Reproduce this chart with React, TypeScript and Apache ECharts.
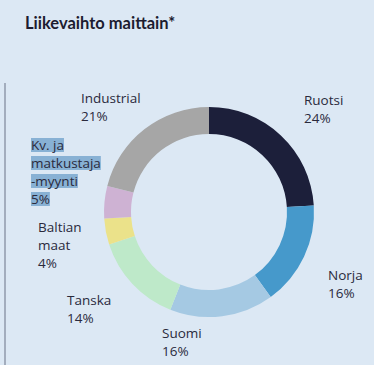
import React, { useEffect, useRef } from "react";
import * as echarts from "echarts";

const categories = ["Ruotsi", "Norja", "Suomi", "Tanska", "Baltian maat", "Kv. ja matkustaja-myynti", "Industrial"];
const values = [24, 16, 16, 14, 4, 5, 21];
const labelLines = [
  ["Ruotsi"],
  ["Norja"],
  ["Suomi"],
  ["Tanska"],
  ["Baltian", "maat"],
  ["Kv. ja", "matkustaja", "-myynti"],
  ["Industrial"],
];
const colors = ["#1c1f3a", "#4699cb", "#a5c9e3", "#bee9c9", "#ebe28a", "#ceb2d3", "#a6a6a6"];
const labelPos = [
  [304, 91],
  [328, 266],
  [162, 324],
  [67, 291],
  [38, 218],
  [31, 136],
  [81, 89],
];

export default function App() {
  const ref = useRef<HTMLDivElement>(null);
  useEffect(() => {
    if (!ref.current) return;
    const chart = echarts.init(ref.current, undefined, { renderer: "svg" });
    const font = "'Open Sans', Lato, sans-serif";
    chart.setOption({
      animation: false,
      backgroundColor: "#dce8f4",
      title: {
        text: "Liikevaihto maittain*",
        left: 20,
        top: 9,
        textStyle: { fontFamily: "Lato, sans-serif", fontWeight: "bold", fontSize: 16.5, color: "#1c1c30" },
      },
      graphic: [
        { type: "rect", shape: { x: 4, y: 83, width: 2, height: 282 }, style: { fill: "#a3adbd" } },
      ],
      series: [
        {
          type: "pie",
          center: [209, 212],
          radius: [78, 105],
          startAngle: 90,
          clockwise: true,
          data: categories.map((c, i) => ({ name: c, value: values[i], itemStyle: { color: colors[i] } })),
          labelLine: { show: false },
          label: {
            show: true,
            position: "outside",
            overflow: "none",
            fontFamily: font,
            fontSize: 13.5,
            lineHeight: 18,
            color: "#2a2a3c",
            formatter: (p: any) => {
              const lines = [...labelLines[p.dataIndex], p.value + "%"];
              if (p.dataIndex === 5) return lines.map((l) => `{h|${l}}`).join("\n");
              return lines.join("\n");
            },
            rich: {
              h: {
                backgroundColor: "#88b1d4",
                fontFamily: font,
                fontSize: 13.5,
                lineHeight: 18,
                color: "#2a2a3c",
              },
            },
          },
          labelLayout: (params: any) => {
            const p = labelPos[params.dataIndex];
            return { x: p[0], y: p[1], align: "left", verticalAlign: "top" };
          },
        },
      ],
    });
    return () => chart.dispose();
  }, []);
  return (
    <div
      ref={ref}
      style={{ position: "fixed", left: 0, top: 0, width: 374, height: 365 }}
    />
  );
}
